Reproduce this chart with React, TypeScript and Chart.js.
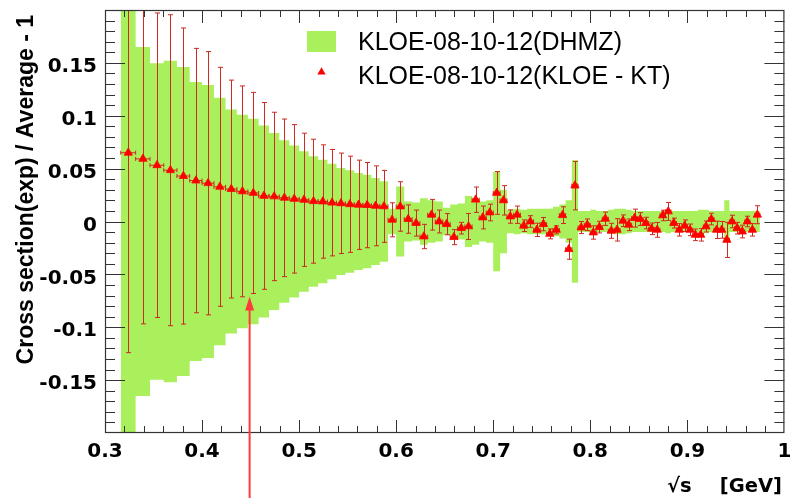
import React, { useEffect, useRef } from "react";
import { Chart, registerables } from "chart.js";

Chart.register(...registerables);

// sqrt(s) bin centres [GeV]
const X_CENTERS = [
  0.3240, 0.3391, 0.3536, 0.3674, 0.3808, 0.3937, 0.4062, 0.4183, 0.4301, 0.4416,
  0.4528, 0.4637, 0.4743, 0.4848, 0.4950, 0.5050, 0.5148, 0.5244, 0.5339, 0.5431,
  0.5523, 0.5612, 0.5701, 0.5788, 0.5874, 0.5958, 0.6042, 0.6124, 0.6205, 0.6285,
  0.6364, 0.6442, 0.6519, 0.6595, 0.6671, 0.6745, 0.6819, 0.6892, 0.6964, 0.7036,
  0.7106, 0.7176, 0.7246, 0.7314, 0.7382, 0.7450, 0.7517, 0.7583, 0.7649, 0.7714,
  0.7778, 0.7842, 0.7906, 0.7969, 0.8031, 0.8093, 0.8155, 0.8216, 0.8276, 0.8337,
  0.8396, 0.8456, 0.8515, 0.8573, 0.8631, 0.8689, 0.8746, 0.8803, 0.8860, 0.8916,
  0.8972, 0.9028, 0.9083, 0.9138, 0.9192, 0.9247, 0.9301, 0.9354, 0.9407, 0.9460,
  0.9513, 0.9566, 0.9618, 0.9670, 0.9721,
];

// KLOE - KT points (relative deviation)
const KT_VALUES = [
  0.065, 0.0592, 0.0532, 0.0485, 0.043, 0.0387, 0.0362, 0.0328, 0.0307, 0.0285,
  0.027, 0.0242, 0.0237, 0.0224, 0.0214, 0.0205, 0.0192, 0.0189, 0.0178, 0.0172,
  0.0163, 0.0158, 0.0155, 0.0148, 0.0143, 0.0016, 0.0142, 0.0023, -0.0015, -0.0142,
  0.0064, 0.0, -0.0025, -0.0148, -0.0063, -0.0047, 0.0206, 0.0038, 0.0085, 0.027,
  0.02, 0.0047, 0.0064, -0.004, 0.0, -0.0079, -0.0025, -0.0117, -0.0079, 0.006,
  -0.0262, 0.0339, -0.0057, -0.0031, -0.0104, -0.0053, 0.0026, -0.0088, -0.0079, 0.0007,
  -0.0031, 0.0032, 0.0023, -0.0015, -0.0069, -0.0079, 0.0057, 0.0095, -0.0015, -0.0079,
  -0.004, -0.0079, -0.0126, -0.0126, -0.0047, 0.0023, -0.0079, -0.0079, -0.0174, 0.0,
  -0.0063, -0.0095, 0.0, -0.0079, 0.0064,
];

const KT_ERRORS = [
  0.189, 0.156, 0.144, 0.147, 0.140, 0.125, 0.1245, 0.113, 0.103, 0.0997,
  0.0951, 0.0883, 0.0796, 0.0745, 0.0702, 0.063, 0.0586, 0.0536, 0.0503, 0.0475,
  0.0455, 0.0422, 0.0403, 0.0378, 0.034, 0.0161, 0.0234, 0.0134, 0.0123, 0.0115,
  0.0145, 0.0108, 0.010, 0.0071, 0.0055, 0.0123, 0.012, 0.0108, 0.0079, 0.0202,
  0.0139, 0.0063, 0.0082, 0.0055, 0.0055, 0.0063, 0.0063, 0.0047, 0.0038, 0.0079,
  0.0095, 0.0229, 0.0057, 0.0055, 0.0063, 0.0055, 0.0063, 0.0071, 0.0106, 0.0055,
  0.0055, 0.0085, 0.006, 0.0055, 0.0055, 0.007, 0.005, 0.0085, 0.0047, 0.0059,
  0.0055, 0.0055, 0.0055, 0.0059, 0.0052, 0.0055, 0.0082, 0.0079, 0.0166, 0.0059,
  0.0055, 0.006, 0.005, 0.0059, 0.0085,
];

// DHMZ band half-width around zero
const DHMZ_ERRORS = [
  0.199, 0.165, 0.1496, 0.152, 0.146, 0.132, 0.129, 0.117, 0.106, 0.101,
  0.0972, 0.0908, 0.0838, 0.0769, 0.0718, 0.0664, 0.0617, 0.0585, 0.0547, 0.0507,
  0.0484, 0.0459, 0.0443, 0.0412, 0.038, 0.012, 0.033, 0.019, 0.018, 0.022,
  0.02, 0.019, 0.013, 0.016, 0.017, 0.024, 0.022, 0.019, 0.02, 0.047,
  0.03, 0.011, 0.012, 0.011, 0.012, 0.012, 0.012, 0.012, 0.014, 0.016,
  0.02, 0.058, 0.010, 0.010, 0.011, 0.010, 0.010, 0.011, 0.012, 0.012,
  0.011, 0.010, 0.010, 0.010, 0.010, 0.010, 0.010, 0.011, 0.010, 0.010,
  0.010, 0.010, 0.010, 0.011, 0.011, 0.010, 0.010, 0.010, 0.020, 0.010,
  0.010, 0.010, 0.010, 0.010, 0.010,
];

const BAND_EDGES = [0.3162, 0.9747];
const X_RANGE = [0.3, 1];
const Y_RANGE = [-0.2, 0.2];
const X_TICKS = [0.3, 0.4, 0.5, 0.6, 0.7, 0.8, 0.9, 1];
const Y_TICKS = [-0.15, -0.1, -0.05, 0, 0.05, 0.1, 0.15];
const X_MINOR = 0.02;
const Y_MINOR = 0.01;
const ARROW_X = 0.449;
const ARROW_TIP = -0.071;
const LEGEND_LABELS = ["KLOE-08-10-12(DHMZ)", "KLOE-08-10-12(KLOE - KT)"];
const Y_TITLE = "Cross section(exp) / Average - 1";
const X_TITLE_ROOT = "\u221As";
const X_TITLE_UNIT = "[GeV]";

const GREEN = "#aaef5c";
const RED = "#ff0000";
const BAR_RED = "#cc2a22";
const AXIS_COLOR = "#333333";

function drawTriangle(ctx: CanvasRenderingContext2D, x: number, y: number, r: number) {
  ctx.beginPath();
  ctx.moveTo(x, y - r);
  ctx.lineTo(x + r * 0.866, y + r * 0.5);
  ctx.lineTo(x - r * 0.866, y + r * 0.5);
  ctx.closePath();
  ctx.fill();
}

const overlayPlugin = {
  id: "rootStyle",
  beforeDatasetDraw(chart: any, args: any) {
    if (args.index !== 2) return;
    const { ctx, chartArea, scales } = chart;
    const xs = scales.x;
    const ys = scales.y;
    ctx.save();
    ctx.beginPath();
    ctx.rect(chartArea.left, chartArea.top, chartArea.right - chartArea.left, chartArea.bottom - chartArea.top);
    ctx.clip();
    ctx.strokeStyle = BAR_RED;
    ctx.lineWidth = 1;
    const n = X_CENTERS.length;
    for (let i = 0; i < n; i++) {
      const xc = X_CENTERS[i];
      const lo = i > 0 ? (X_CENTERS[i - 1] + xc) / 2 : BAND_EDGES[0];
      const hi = i < n - 1 ? (X_CENTERS[i + 1] + xc) / 2 : BAND_EDGES[1];
      const px = Math.round(xs.getPixelForValue(xc)) + 0.5;
      const py = ys.getPixelForValue(KT_VALUES[i]);
      const pTop = ys.getPixelForValue(KT_VALUES[i] + KT_ERRORS[i]);
      const pBot = ys.getPixelForValue(KT_VALUES[i] - KT_ERRORS[i]);
      const pl = xs.getPixelForValue(lo);
      const pr = xs.getPixelForValue(hi);
      ctx.beginPath();
      ctx.moveTo(px, pTop);
      ctx.lineTo(px, pBot);
      ctx.moveTo(px - 2.5, pTop);
      ctx.lineTo(px + 2.5, pTop);
      ctx.moveTo(px - 2.5, pBot);
      ctx.lineTo(px + 2.5, pBot);
      ctx.moveTo(pl, py);
      ctx.lineTo(pr, py);
      ctx.moveTo(pl, py - 2);
      ctx.lineTo(pl, py + 2);
      ctx.moveTo(pr, py - 2);
      ctx.lineTo(pr, py + 2);
      ctx.stroke();
    }
    ctx.restore();
  },
  afterDraw(chart: any) {
    const { ctx, chartArea, scales } = chart;
    const xs = scales.x;
    const ys = scales.y;
    const { left, right, top, bottom } = chartArea;
    ctx.save();
    // frame
    ctx.strokeStyle = AXIS_COLOR;
    ctx.lineWidth = 1.2;
    ctx.strokeRect(left + 0.5, top + 0.5, right - left - 1, bottom - top - 1);
    // ticks (all four sides, inward)
    ctx.lineWidth = 1;
    ctx.beginPath();
    const yMinorCount = Math.round((Y_RANGE[1] - Y_RANGE[0]) / Y_MINOR);
    for (let k = 1; k < yMinorCount; k++) {
      const v = Y_RANGE[0] + k * Y_MINOR;
      const major = Y_TICKS.some((t) => Math.abs(t - v) < 1e-6);
      const len = major ? 20 : 10;
      const py = Math.round(ys.getPixelForValue(v)) + 0.5;
      ctx.moveTo(left, py);
      ctx.lineTo(left + len, py);
      ctx.moveTo(right, py);
      ctx.lineTo(right - len, py);
    }
    const xMinorCount = Math.round((X_RANGE[1] - X_RANGE[0]) / X_MINOR);
    for (let k = 1; k < xMinorCount; k++) {
      const v = X_RANGE[0] + k * X_MINOR;
      const major = X_TICKS.some((t) => Math.abs(t - v) < 1e-6);
      const len = major ? 13 : 7;
      const px = Math.round(xs.getPixelForValue(v)) + 0.5;
      ctx.moveTo(px, bottom);
      ctx.lineTo(px, bottom - len);
      ctx.moveTo(px, top);
      ctx.lineTo(px, top + len);
    }
    ctx.stroke();

    // legend
    ctx.fillStyle = GREEN;
    ctx.fillRect(307, 31, 29, 21);
    ctx.fillStyle = RED;
    drawTriangle(ctx, 321.5, 72, 4.8);
    ctx.fillStyle = "#000";
    ctx.font = '25px "Liberation Sans", Arial, sans-serif';
    ctx.textAlign = "left";
    ctx.textBaseline = "alphabetic";
    ctx.fillText(LEGEND_LABELS[0], 358, 50);
    ctx.fillText(LEGEND_LABELS[1], 358, 84);

    // y title
    ctx.save();
    ctx.translate(32.5, 15);
    ctx.rotate(-Math.PI / 2);
    ctx.font = 'bold 23px "Liberation Sans", Arial, sans-serif';
    ctx.textAlign = "right";
    ctx.textBaseline = "alphabetic";
    ctx.fillText(Y_TITLE, 0, 0);
    ctx.restore();

    // x title
    ctx.font = 'bold 19.5px "DejaVu Sans", sans-serif';
    ctx.textAlign = "left";
    ctx.fillText(X_TITLE_ROOT, 667, 492);
    ctx.textAlign = "right";
    ctx.fillText(X_TITLE_UNIT, 782, 492);

    // arrow
    const ax = xs.getPixelForValue(ARROW_X);
    const tip = ys.getPixelForValue(ARROW_TIP);
    ctx.strokeStyle = "#ff3a3a";
    ctx.fillStyle = "#ff3a3a";
    ctx.lineWidth = 2;
    ctx.beginPath();
    ctx.moveTo(ax, chart.height);
    ctx.lineTo(ax, tip + 12);
    ctx.stroke();
    ctx.beginPath();
    ctx.moveTo(ax, tip);
    ctx.lineTo(ax + 4.5, tip + 14);
    ctx.lineTo(ax - 4.5, tip + 14);
    ctx.closePath();
    ctx.fill();
    ctx.restore();
  },
};

export default function App() {
  const canvasRef = useRef<HTMLCanvasElement | null>(null);

  useEffect(() => {
    document.body.style.margin = "0";
    const canvas = canvasRef.current;
    if (!canvas) return;
    const n = X_CENTERS.length;
    const upper = [
      { x: BAND_EDGES[0], y: DHMZ_ERRORS[0] },
      ...X_CENTERS.map((x, i) => ({ x, y: DHMZ_ERRORS[i] })),
      { x: BAND_EDGES[1], y: DHMZ_ERRORS[n - 1] },
    ];
    const lower = upper.map((p) => ({ x: p.x, y: -p.y }));
    const points = X_CENTERS.map((x, i) => ({ x, y: KT_VALUES[i] }));

    const tickFont = { family: '"DejaVu Sans", sans-serif', weight: "bold" as const, size: 20 };

    const chart = new Chart(canvas, {
      type: "scatter",
      data: {
        datasets: [
          {
            type: "line",
            label: "DHMZ upper",
            data: upper,
            stepped: "middle",
            borderWidth: 0,
            borderColor: "rgba(0,0,0,0)",
            backgroundColor: GREEN,
            pointRadius: 0,
            fill: "+1",
            order: 3,
          } as any,
          {
            type: "line",
            label: "DHMZ lower",
            data: lower,
            stepped: "middle",
            borderWidth: 0,
            borderColor: "rgba(0,0,0,0)",
            backgroundColor: GREEN,
            pointRadius: 0,
            fill: false,
            order: 2,
          } as any,
          {
            type: "scatter",
            label: "KLOE - KT",
            data: points,
            pointStyle: "triangle",
            pointRadius: 4.8,
            borderWidth: 0.8,
            backgroundColor: RED,
            borderColor: RED,
            order: 0,
          } as any,
        ],
      },
      options: {
        responsive: false,
        animation: false,
        devicePixelRatio: 1,
        layout: { padding: { top: 10, right: 5, left: 0, bottom: 0 } },
        plugins: { legend: { display: false }, tooltip: { enabled: false } },
        scales: {
          x: {
            type: "linear",
            min: X_RANGE[0],
            max: X_RANGE[1],
            grid: { display: false, drawTicks: false },
            border: { display: false },
            ticks: {
              font: tickFont,
              color: "#000",
              padding: 7,
              maxRotation: 0,
              autoSkip: false,
              callback: (v: any) => String(v),
            },
            afterBuildTicks: (s: any) => {
              s.ticks = X_TICKS.map((v) => ({ value: v }));
            },
            afterFit: (s: any) => {
              s.height = 65;
              s.paddingLeft = 0;
              s.paddingRight = 0;
            },
          },
          y: {
            type: "linear",
            min: Y_RANGE[0],
            max: Y_RANGE[1],
            grid: { display: false, drawTicks: false },
            border: { display: false },
            ticks: {
              font: tickFont,
              color: "#000",
              padding: 8,
              labelOffset: 4,
              autoSkip: false,
              callback: (v: any) => String(v),
            },
            afterBuildTicks: (s: any) => {
              s.ticks = Y_TICKS.map((v) => ({ value: v }));
            },
            afterFit: (s: any) => {
              s.width = 105;
              s.paddingTop = 0;
              s.paddingBottom = 0;
            },
          },
        },
      },
      plugins: [overlayPlugin],
    });
    return () => chart.destroy();
  }, []);

  return (
    <div style={{ width: 790, height: 498, position: "relative", background: "#fff" }}>
      <canvas ref={canvasRef} width={790} height={498} style={{ display: "block" }} />
    </div>
  );
}
